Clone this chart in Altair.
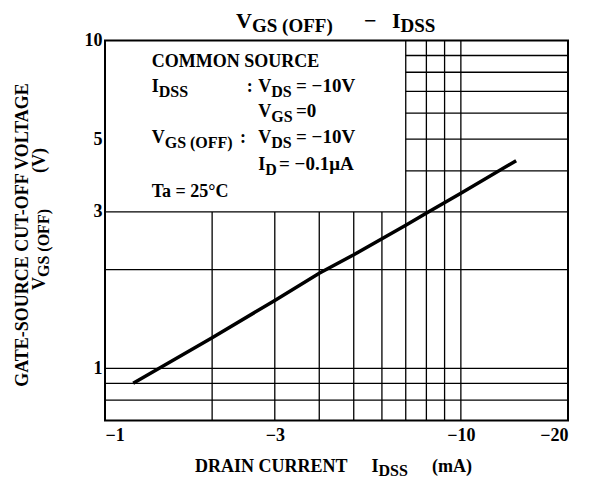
import altair as alt
import pandas as pd

# ---- data ----
idss_ma = [1.2, 2, 3, 4, 5, 7, 8.1, 10, 14.3]          # |IDSS| (mA), axis shows negative values
vgs_off = [0.9, 1.24, 1.61, 1.95, 2.22, 2.73, 3.0, 3.42, 4.3]  # VGS(OFF) (V)
x_ticks = [1, 3, 10, 20]
y_ticks = [1, 3, 5, 10]
grid_x_full = [7, 8, 9, 10]
grid_x_lower = [2, 3, 4, 5, 6]
grid_y_full = [0.8, 0.9, 1, 2, 3]
grid_y_upper = [4, 5, 6, 7, 8, 9]
X_DOMAIN = [1, 20]
Y_DOMAIN = [0.693, 10]

FONT = "Liberation Serif"

# grid segments table built from the arrays
rows = []
for v in grid_x_full:
    rows.append({"x": v, "x2": v, "y": Y_DOMAIN[0], "y2": Y_DOMAIN[1]})
for v in grid_x_lower:
    rows.append({"x": v, "x2": v, "y": Y_DOMAIN[0], "y2": 3})
for h in grid_y_full:
    rows.append({"x": X_DOMAIN[0], "x2": X_DOMAIN[1], "y": h, "y2": h})
for h in grid_y_upper:
    rows.append({"x": 7, "x2": X_DOMAIN[1], "y": h, "y2": h})
grid_df = pd.DataFrame(rows)
line_df = pd.DataFrame({"idss": idss_ma, "vgs": vgs_off})

xs = alt.Scale(type="log", domain=X_DOMAIN, nice=False)
ys = alt.Scale(type="log", domain=Y_DOMAIN, nice=False)
axis_common = dict(title=None, ticks=False, domain=False, grid=False,
                   labelFont=FONT, labelFontSize=18, labelFontWeight="bold",
                   labelColor="black")
xaxis = alt.Axis(values=x_ticks, labelExpr="'\u2212' + format(datum.value, 'd')",
                 labelPadding=6, **axis_common)
yaxis = alt.Axis(values=y_ticks, labelExpr="format(datum.value, 'd')",
                 labelPadding=3, **axis_common)

grid = alt.Chart(grid_df).mark_rule(color="black", strokeWidth=1.3).encode(
    x=alt.X("x:Q", scale=xs, axis=xaxis),
    x2="x2:Q",
    y=alt.Y("y:Q", scale=ys, axis=yaxis),
    y2="y2:Q",
)

curve = alt.Chart(line_df).mark_line(color="black", strokeWidth=3.5).encode(
    x=alt.X("idss:Q", scale=xs, axis=xaxis),
    y=alt.Y("vgs:Q", scale=ys, axis=yaxis),
)


def txt(s, x, y, size=18, angle=0, align="left"):
    return alt.Chart(pd.DataFrame({"t": [s]})).mark_text(
        align=align, baseline="alphabetic", font=FONT, fontSize=size,
        fontWeight="bold", color="black", angle=angle,
    ).encode(x=alt.value(x), y=alt.value(y), text="t:N")


texts = [
    # title
    txt("V", 131, -12.6, 22),
    txt("GS (OFF)", 147, -8.6, 19),
    txt("\u2212", 259, -12.6, 22),
    txt("I", 287, -12.6, 22),
    txt("DSS", 295.5, -8.6, 19),
    # legend box
    txt("COMMON SOURCE", 46.7, 26.8),
    txt("I", 46.7, 51.2),
    txt("DSS", 53.7, 56.2, 16),
    txt(":", 141.7, 51.2),
    txt("V", 153.3, 51.2),
    txt("DS", 166.3, 56.2, 16),
    txt("= \u221210V", 191, 51.2, 19),
    txt("V", 153.3, 76.8),
    txt("GS", 166.3, 81.8, 16),
    txt("=0", 191, 76.8, 19),
    txt("V", 46.7, 102.8),
    txt("GS (OFF)", 59.7, 107.8, 16),
    txt(":", 135, 102.8),
    txt("V", 153.3, 102.8),
    txt("DS", 166.3, 107.8, 16),
    txt("= \u221210V", 191, 102.8, 19),
    txt("I", 153.3, 129.5),
    txt("D", 160.3, 134.5, 16),
    txt("= \u22120.1\u03bcA", 174, 129.5, 19),
    txt("Ta = 25\u00b0C", 46.7, 156.2),
    # y axis title
    txt("GATE-SOURCE CUT-OFF VOLTAGE", -77, 194.5, 18, 270, "center"),
    txt("V", -60, 249.5, 18, 270),
    txt("GS (OFF)", -56, 236.5, 16, 270),
    txt("(V)", -60, 132.5, 18, 270),
    # x axis title
    txt("DRAIN CURRENT", 90, 431.5),
    txt("I", 266.5, 431.5),
    txt("DSS", 273.5, 435.5, 16),
    txt("(mA)", 327, 431.5),
]

chart = alt.layer(grid, curve, *texts).properties(
    width=463, height=380,
    padding={"left": 97, "top": 32.5, "right": 18, "bottom": 57.5},
    autosize="none",
).configure_view(stroke="black", strokeWidth=2)

chart.save("out.html", embed_options={"renderer": "svg", "actions": False})
